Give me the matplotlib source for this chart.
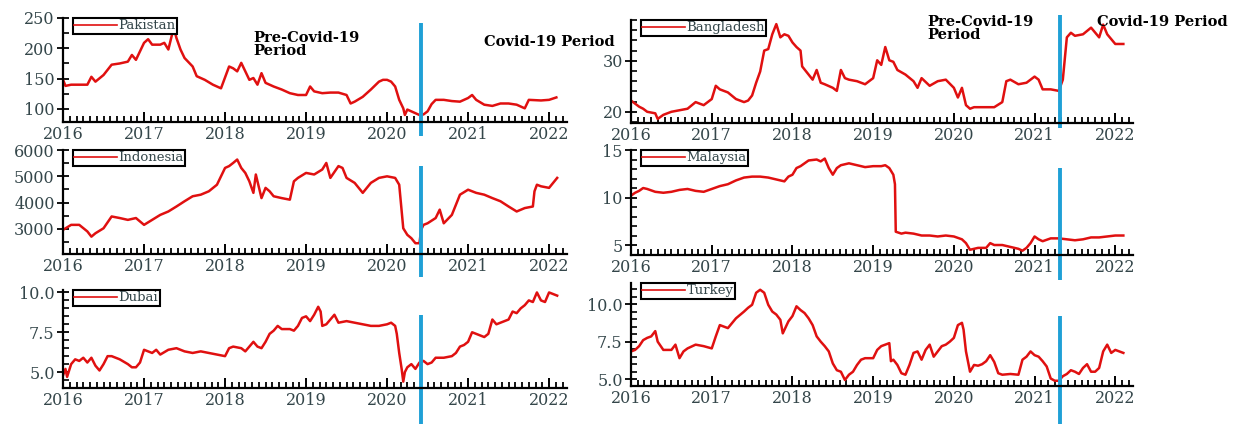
import matplotlib
matplotlib.use("Agg")
import matplotlib.pyplot as plt
from matplotlib.ticker import MultipleLocator, FormatStrFormatter

# (year, price) pairs for each market
pakistan = [
    (2016.0, 148), (2016.03, 138), (2016.1, 140), (2016.2, 140), (2016.3, 140), (2016.35, 153),
    (2016.4, 145), (2016.5, 156), (2016.6, 173), (2016.7, 175), (2016.8, 178), (2016.85, 189),
    (2016.9, 181), (2017.0, 209), (2017.05, 215), (2017.1, 206), (2017.2, 206), (2017.25, 209),
    (2017.3, 198), (2017.35, 225), (2017.37, 232), (2017.4, 217), (2017.45, 198), (2017.5, 184),
    (2017.6, 170), (2017.65, 154), (2017.75, 148), (2017.85, 140), (2017.95, 134), (2018.05, 170),
    (2018.1, 167), (2018.15, 162), (2018.2, 176), (2018.25, 162), (2018.3, 148), (2018.35, 151),
    (2018.4, 140), (2018.45, 159), (2018.5, 143), (2018.6, 137), (2018.7, 132), (2018.8, 126),
    (2018.9, 123), (2019.0, 123), (2019.05, 137), (2019.1, 129), (2019.2, 126), (2019.3, 127),
    (2019.4, 127), (2019.5, 123), (2019.55, 109), (2019.6, 112), (2019.7, 120), (2019.8, 132),
    (2019.9, 145), (2019.95, 148), (2020.0, 148), (2020.05, 145), (2020.1, 137), (2020.15, 115),
    (2020.2, 101), (2020.22, 90), (2020.25, 99), (2020.3, 96), (2020.35, 93), (2020.4, 90),
    (2020.45, 91), (2020.5, 96), (2020.55, 108), (2020.6, 115), (2020.7, 115), (2020.8, 113),
    (2020.9, 112), (2021.0, 118), (2021.05, 123), (2021.1, 115), (2021.2, 107), (2021.3, 105),
    (2021.4, 109), (2021.5, 109), (2021.6, 107), (2021.7, 101), (2021.75, 115), (2021.9, 114),
    (2022.0, 115), (2022.09, 119),
]

bangladesh = [
    (2016.0, 22.2), (2016.05, 21.6), (2016.1, 21.0), (2016.15, 20.6), (2016.2, 20.0), (2016.3, 19.7),
    (2016.33, 18.6), (2016.4, 19.4), (2016.5, 20.0), (2016.6, 20.3), (2016.7, 20.6), (2016.8, 21.9),
    (2016.9, 21.3), (2017.0, 22.5), (2017.05, 25.1), (2017.1, 24.4), (2017.2, 23.8), (2017.3, 22.5),
    (2017.4, 21.9), (2017.45, 22.2), (2017.5, 23.2), (2017.55, 25.7), (2017.6, 27.9), (2017.65, 32.0),
    (2017.7, 32.3), (2017.75, 35.2), (2017.8, 37.2), (2017.85, 34.6), (2017.9, 35.2), (2017.95, 34.9),
    (2018.0, 33.6), (2018.05, 32.7), (2018.1, 32.0), (2018.12, 28.9), (2018.2, 27.3), (2018.25, 26.3),
    (2018.3, 28.2), (2018.35, 25.7), (2018.4, 25.4), (2018.5, 24.7), (2018.55, 24.1), (2018.6, 28.2),
    (2018.65, 26.6), (2018.7, 26.3), (2018.8, 26.0), (2018.9, 25.4), (2019.0, 26.6), (2019.05, 30.1),
    (2019.1, 29.2), (2019.15, 32.7), (2019.2, 30.1), (2019.25, 29.8), (2019.3, 28.2), (2019.4, 27.3),
    (2019.5, 26.0), (2019.55, 24.7), (2019.6, 26.6), (2019.7, 25.1), (2019.8, 26.0), (2019.9, 26.3),
    (2020.0, 24.7), (2020.05, 22.8), (2020.1, 24.7), (2020.15, 21.3), (2020.2, 20.6), (2020.25, 20.9),
    (2020.5, 20.9), (2020.6, 21.9), (2020.65, 26.0), (2020.7, 26.3), (2020.8, 25.4), (2020.9, 25.7),
    (2021.0, 26.9), (2021.05, 26.3), (2021.1, 24.4), (2021.2, 24.4), (2021.3, 24.1), (2021.35, 26.3),
    (2021.4, 34.6), (2021.45, 35.5), (2021.5, 34.9), (2021.6, 35.2), (2021.7, 36.5), (2021.8, 34.6),
    (2021.85, 37.1), (2021.9, 35.2), (2022.0, 33.3), (2022.1, 33.3),
]

indonesia = [
    (2016.0, 2960), (2016.1, 3150), (2016.2, 3150), (2016.3, 2900), (2016.35, 2700), (2016.4, 2830),
    (2016.5, 3020), (2016.6, 3470), (2016.7, 3410), (2016.8, 3340), (2016.9, 3410), (2017.0, 3150),
    (2017.1, 3340), (2017.2, 3530), (2017.3, 3660), (2017.4, 3850), (2017.5, 4050), (2017.6, 4240),
    (2017.7, 4300), (2017.8, 4430), (2017.9, 4680), (2018.0, 5320), (2018.05, 5390), (2018.1, 5510),
    (2018.15, 5640), (2018.2, 5320), (2018.25, 5130), (2018.3, 4810), (2018.35, 4370), (2018.38, 5070),
    (2018.45, 4170), (2018.5, 4560), (2018.55, 4430), (2018.6, 4240), (2018.7, 4170), (2018.8, 4110),
    (2018.85, 4810), (2018.9, 4940), (2019.0, 5130), (2019.1, 5070), (2019.2, 5260), (2019.25, 5510),
    (2019.3, 4940), (2019.4, 5390), (2019.45, 5320), (2019.5, 4940), (2019.6, 4750), (2019.7, 4370),
    (2019.8, 4750), (2019.9, 4940), (2020.0, 5000), (2020.1, 4940), (2020.15, 4680), (2020.2, 3020),
    (2020.25, 2770), (2020.3, 2640), (2020.35, 2450), (2020.4, 2450), (2020.42, 2960), (2020.45, 3150),
    (2020.5, 3210), (2020.6, 3410), (2020.65, 3730), (2020.7, 3210), (2020.8, 3530), (2020.9, 4300),
    (2021.0, 4490), (2021.1, 4370), (2021.2, 4300), (2021.3, 4170), (2021.4, 4050), (2021.5, 3850),
    (2021.6, 3660), (2021.7, 3790), (2021.8, 3850), (2021.82, 4430), (2021.85, 4680), (2021.9, 4620),
    (2022.0, 4560), (2022.05, 4750), (2022.1, 4940),
]

malaysia = [
    (2016.0, 10.2), (2016.05, 10.5), (2016.1, 10.7), (2016.15, 11.0), (2016.2, 10.9), (2016.3, 10.6),
    (2016.4, 10.5), (2016.5, 10.6), (2016.6, 10.8), (2016.7, 10.9), (2016.8, 10.7), (2016.9, 10.6),
    (2017.0, 10.9), (2017.1, 11.2), (2017.2, 11.4), (2017.3, 11.8), (2017.4, 12.1), (2017.5, 12.2),
    (2017.6, 12.2), (2017.7, 12.1), (2017.8, 11.9), (2017.9, 11.7), (2017.95, 12.2), (2018.0, 12.4),
    (2018.05, 13.1), (2018.1, 13.3), (2018.2, 13.9), (2018.3, 14.0), (2018.35, 13.8), (2018.4, 14.1),
    (2018.45, 13.1), (2018.5, 12.4), (2018.55, 13.1), (2018.6, 13.4), (2018.7, 13.6), (2018.8, 13.4),
    (2018.9, 13.2), (2019.0, 13.3), (2019.1, 13.3), (2019.15, 13.4), (2019.2, 13.1), (2019.25, 12.4),
    (2019.27, 11.4), (2019.28, 6.4), (2019.35, 6.2), (2019.4, 6.3), (2019.5, 6.2), (2019.6, 6.0),
    (2019.7, 6.0), (2019.8, 5.9), (2019.9, 6.0), (2020.0, 5.9), (2020.1, 5.6), (2020.15, 5.2),
    (2020.2, 4.5), (2020.3, 4.7), (2020.4, 4.7), (2020.45, 5.2), (2020.5, 5.0), (2020.6, 5.0),
    (2020.7, 4.8), (2020.8, 4.6), (2020.85, 4.4), (2020.9, 4.7), (2020.95, 5.2), (2021.0, 5.9),
    (2021.05, 5.6), (2021.1, 5.4), (2021.2, 5.7), (2021.3, 5.7), (2021.4, 5.6), (2021.5, 5.5),
    (2021.6, 5.6), (2021.7, 5.8), (2021.8, 5.8), (2021.9, 5.9), (2022.0, 6.0), (2022.1, 6.0),
]

dubai = [
    (2016.0, 4.8), (2016.03, 5.2), (2016.05, 4.7), (2016.1, 5.5), (2016.15, 5.8), (2016.2, 5.7),
    (2016.25, 5.9), (2016.3, 5.6), (2016.35, 5.9), (2016.4, 5.4), (2016.45, 5.1), (2016.5, 5.5),
    (2016.55, 6.0), (2016.6, 6.0), (2016.7, 5.8), (2016.8, 5.5), (2016.85, 5.3), (2016.9, 5.3),
    (2016.95, 5.6), (2017.0, 6.4), (2017.05, 6.3), (2017.1, 6.2), (2017.15, 6.4), (2017.2, 6.1),
    (2017.3, 6.4), (2017.4, 6.5), (2017.5, 6.3), (2017.6, 6.2), (2017.7, 6.3), (2017.8, 6.2),
    (2017.9, 6.1), (2018.0, 6.0), (2018.05, 6.5), (2018.1, 6.6), (2018.2, 6.5), (2018.25, 6.3),
    (2018.3, 6.6), (2018.35, 6.9), (2018.4, 6.6), (2018.45, 6.5), (2018.5, 6.9), (2018.55, 7.4),
    (2018.6, 7.6), (2018.65, 7.9), (2018.7, 7.7), (2018.8, 7.7), (2018.85, 7.6), (2018.9, 7.9),
    (2018.95, 8.4), (2019.0, 8.5), (2019.05, 8.2), (2019.1, 8.6), (2019.15, 9.1), (2019.18, 8.8),
    (2019.2, 7.9), (2019.25, 8.0), (2019.3, 8.3), (2019.35, 8.6), (2019.4, 8.1), (2019.5, 8.2),
    (2019.6, 8.1), (2019.7, 8.0), (2019.8, 7.9), (2019.9, 7.9), (2020.0, 8.0), (2020.05, 8.1),
    (2020.1, 7.9), (2020.12, 7.4), (2020.15, 6.2), (2020.18, 5.2), (2020.2, 4.4), (2020.22, 5.0),
    (2020.25, 5.3), (2020.3, 5.5), (2020.35, 5.2), (2020.4, 5.6), (2020.45, 5.7), (2020.5, 5.5),
    (2020.55, 5.6), (2020.6, 5.9), (2020.7, 5.9), (2020.8, 6.0), (2020.85, 6.2), (2020.9, 6.6),
    (2020.95, 6.7), (2021.0, 6.9), (2021.05, 7.5), (2021.1, 7.4), (2021.15, 7.3), (2021.2, 7.2),
    (2021.25, 7.4), (2021.3, 8.3), (2021.35, 8.0), (2021.4, 8.1), (2021.5, 8.3), (2021.55, 8.8),
    (2021.6, 8.7), (2021.65, 9.0), (2021.7, 9.2), (2021.75, 9.5), (2021.8, 9.4), (2021.85, 10.0),
    (2021.9, 9.5), (2021.95, 9.4), (2022.0, 10.0), (2022.05, 9.9), (2022.1, 9.8),
]

turkey = [
    (2016.0, 6.85), (2016.05, 6.95), (2016.1, 7.2), (2016.15, 7.6), (2016.2, 7.75), (2016.25, 7.85),
    (2016.3, 8.2), (2016.33, 7.5), (2016.4, 6.95), (2016.45, 6.95), (2016.5, 6.95), (2016.55, 7.3),
    (2016.6, 6.4), (2016.65, 6.85), (2016.7, 7.05), (2016.8, 7.3), (2016.9, 7.2), (2017.0, 7.05),
    (2017.05, 7.85), (2017.1, 8.6), (2017.2, 8.4), (2017.3, 9.05), (2017.4, 9.5), (2017.45, 9.75),
    (2017.5, 9.95), (2017.55, 10.75), (2017.6, 10.95), (2017.65, 10.75), (2017.7, 9.95), (2017.75, 9.5),
    (2017.8, 9.3), (2017.85, 8.95), (2017.88, 8.05), (2017.95, 8.85), (2018.0, 9.2), (2018.05, 9.85),
    (2018.1, 9.6), (2018.15, 9.4), (2018.2, 9.05), (2018.25, 8.6), (2018.3, 7.85), (2018.35, 7.5),
    (2018.4, 7.2), (2018.45, 6.85), (2018.5, 6.05), (2018.55, 5.6), (2018.6, 5.5), (2018.65, 4.95),
    (2018.7, 5.3), (2018.75, 5.5), (2018.8, 5.95), (2018.85, 6.3), (2018.9, 6.4), (2019.0, 6.4),
    (2019.05, 6.95), (2019.1, 7.2), (2019.15, 7.3), (2019.2, 7.4), (2019.22, 6.2), (2019.25, 6.3),
    (2019.3, 5.95), (2019.35, 5.4), (2019.4, 5.3), (2019.45, 5.95), (2019.5, 6.75), (2019.55, 6.85),
    (2019.6, 6.3), (2019.65, 6.95), (2019.7, 7.3), (2019.75, 6.5), (2019.8, 6.85), (2019.85, 7.2),
    (2019.9, 7.3), (2019.95, 7.5), (2020.0, 7.75), (2020.05, 8.6), (2020.1, 8.75), (2020.12, 8.3),
    (2020.15, 6.85), (2020.2, 5.5), (2020.25, 5.95), (2020.3, 5.9), (2020.35, 6.0), (2020.4, 6.2),
    (2020.45, 6.6), (2020.5, 6.15), (2020.55, 5.4), (2020.6, 5.3), (2020.7, 5.35), (2020.8, 5.3),
    (2020.85, 6.3), (2020.9, 6.5), (2020.95, 6.85), (2021.0, 6.6), (2021.05, 6.5), (2021.1, 6.2),
    (2021.15, 5.85), (2021.2, 5.05), (2021.25, 4.9), (2021.3, 4.9), (2021.35, 5.2), (2021.4, 5.35),
    (2021.45, 5.6), (2021.5, 5.5), (2021.55, 5.35), (2021.6, 5.75), (2021.65, 6.0), (2021.7, 5.5),
    (2021.75, 5.5), (2021.8, 5.75), (2021.85, 6.85), (2021.9, 7.3), (2021.95, 6.75), (2022.0, 6.95),
    (2022.05, 6.85), (2022.1, 6.75),
]

covid_left = 2020.42   # break date used for Pakistan, Indonesia, Dubai
covid_right = 2021.31  # break date used for Bangladesh, Malaysia, Turkey

RED = "#e01010"
BLUE = "#1fa0d6"
TXT = "#34464a"
SERIF = "DejaVu Serif"

fig = plt.figure(figsize=(12.41, 4.24), dpi=100)


def panel(rect, data, name, ylim, major, minor, fmt, covid, span):
    ax = fig.add_axes(rect)
    ax.patch.set_alpha(0)
    t = [p[0] for p in data]
    v = [p[1] for p in data]
    ax.plot(t, v, color=RED, lw=1.8, label=name)
    ax.set_xlim(2016, 2022.22)
    ax.set_ylim(*ylim)

    ax.xaxis.set_major_locator(MultipleLocator(1))
    ax.xaxis.set_minor_locator(MultipleLocator(1 / 12))
    ax.xaxis.set_major_formatter(FormatStrFormatter("%d"))
    ax.yaxis.set_major_locator(MultipleLocator(major))
    ax.yaxis.set_minor_locator(MultipleLocator(minor))
    ax.yaxis.set_major_formatter(FormatStrFormatter(fmt))

    ax.tick_params(axis="x", which="major", direction="in", length=7, width=1.4, pad=3)
    ax.tick_params(axis="x", which="minor", direction="in", length=4.5, width=1.3)
    ax.tick_params(axis="y", which="major", direction="inout", length=8, width=1.3, pad=2)
    ax.tick_params(axis="y", which="minor", direction="in", length=4.5, width=1.2)
    ax.tick_params(labelsize=11.5, labelcolor=TXT)
    for lab in ax.get_xticklabels() + ax.get_yticklabels():
        lab.set_family(SERIF)

    for s in ["top", "right"]:
        ax.spines[s].set_visible(False)
    for s in ["left", "bottom"]:
        ax.spines[s].set_linewidth(1.6)

    leg = ax.legend(loc="upper left", bbox_to_anchor=(0.02, 1.0), borderaxespad=0,
                    fancybox=False, edgecolor="black", framealpha=1,
                    handlelength=3.2, handletextpad=0.15, borderpad=0.1,
                    prop={"family": SERIF, "size": 9.5})
    leg.get_frame().set_linewidth(1.5)
    for line in leg.get_lines():
        line.set_linewidth(1.2)
    for txt in leg.get_texts():
        txt.set_color(TXT)

    # vertical marker splitting pre-covid and covid periods
    ax.plot([covid, covid], span, color=BLUE, lw=2.8, solid_capstyle="butt",
            transform=ax.get_xaxis_transform(), clip_on=False)
    return ax


panel([0.0508, 0.7123, 0.406, 0.2453], pakistan, "Pakistan", (78.5, 250), 50, 25, "%d",
      covid_left, (0.95, -0.135))
panel([0.5085, 0.7099, 0.4045, 0.2429], bangladesh, "Bangladesh", (17.8, 38), 10, 2, "%d",
      covid_right, (1.05, -0.05))
panel([0.0508, 0.4010, 0.406, 0.2450], indonesia, "Indonesia", (2040, 6000), 1000, 500, "%d",
      covid_left, (0.85, -0.22))
panel([0.5085, 0.3986, 0.4045, 0.2476], malaysia, "Malaysia", (3.95, 15), 5, 1, "%d",
      covid_right, (0.83, -0.24))
panel([0.0508, 0.0849, 0.406, 0.2310], dubai, "Dubai", (4.0, 10.15), 2.5, 0.5, "%.1f",
      covid_left, (0.745, -0.37))
panel([0.5085, 0.0896, 0.4045, 0.2430], turkey, "Turkey", (4.55, 11.4), 2.5, 0.5, "%.1f",
      covid_right, (0.68, -0.37))

note = dict(family=SERIF, fontweight="bold", fontsize=10.5, color="black")
fig.text(0.204, 0.927, "Pre-Covid-19\nPeriod", va="top", ha="left", linespacing=0.95, **note)
fig.text(0.390, 0.901, "Covid-19 Period", va="center", ha="left", **note)
fig.text(0.747, 0.965, "Pre-Covid-19\nPeriod", va="top", ha="left", linespacing=0.95, **note)
fig.text(0.884, 0.948, "Covid-19 Period", va="center", ha="left", **note)

fig.savefig("out.png", dpi=100)
